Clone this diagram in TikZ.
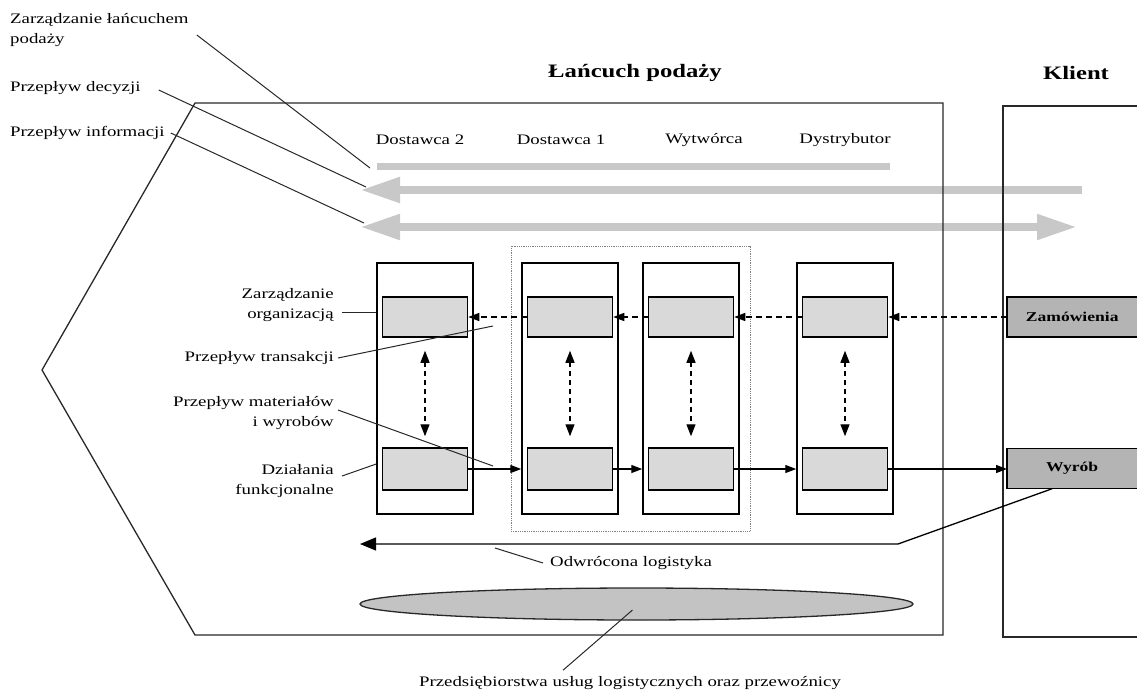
\documentclass[tikz,border=0pt]{standalone}
\usepackage{fontspec}
\setmainfont{Liberation Serif}[FakeStretch=1.3]
\usetikzlibrary{arrows.meta,shapes.geometric}
\definecolor{bargray}{RGB}{200,200,200}
\definecolor{innergray}{RGB}{217,217,217}
\definecolor{darkbox}{RGB}{180,180,180}
\definecolor{ellgray}{RGB}{195,195,195}
\definecolor{linegray}{RGB}{40,40,40}
\begin{document}
\begin{tikzpicture}[x=1pt,y=-1pt,
  every node/.style={font=\fontsize{14.5}{20}\selectfont, inner sep=0pt},
  titletext/.style={font=\fontsize{19}{22}\selectfont\bfseries},
  outerbox/.style={draw, line width=1.5pt, minimum width=96pt, minimum height=251pt},
  innerbox/.style={draw, line width=1.5pt, fill=innergray, minimum width=85pt},
  clientbox/.style={fill=darkbox, minimum width=130pt, minimum height=40pt, font=\fontsize{13.5}{16}\selectfont\bfseries},
  graybar/.style={line width=8pt, draw=bargray},
  bigtip/.tip={Triangle[length=40pt,width=24pt]},
  leader/.style={draw=linegray, line width=1pt},
  flowdash/.style={draw, line width=1.3pt, dash pattern=on 6pt off 4pt, -{Triangle[length=11pt,width=8pt]}},
  vdash/.style={draw, line width=1.3pt, dash pattern=on 5pt off 4pt, {Triangle[length=12pt,width=9pt]}-{Triangle[length=12pt,width=9pt]}},
  matflow/.style={draw, line width=1.3pt, -{Triangle[length=11pt,width=8pt]}}
]
\useasboundingbox (0,0) rectangle (1137,691);

% gray flow bars
\coordinate (b1s) at (377,166); \coordinate (b1e) at (890,166);
\coordinate (b2s) at (360,190); \coordinate (b2e) at (1082,190);
\coordinate (b3s) at (360,227); \coordinate (b3e) at (1077,227);
\draw[graybar, line width=7pt] (b1s) -- (b1e);
\draw[graybar, {bigtip}-] (b2s) -- (b2e);
\draw[graybar, {bigtip}-{bigtip}] (b3s) -- (b3e);

% supply chain outline
\draw[draw=linegray, line width=1.3pt] (195,103) -- (943,103) -- (943,635) -- (195,635) -- (42,370) -- cycle;
% client frame
\draw[draw=linegray, line width=1.3pt] (1137,106) -- (1003,106) -- (1003,637) -- (1137,637);

% titles
\node[titletext] (title) at (635,73) {Łańcuch podaży};
\node[titletext] (klient) at (1076,73) {Klient};

% column headers
\node (d2) at (420,140) {Dostawca 2};
\node (d1) at (561,140) {Dostawca 1};
\node (wy) at (704,140) {Wytwórca};
\node (dy) at (845,140) {Dystrybutor};

% dotted group
\node[draw=gray, densely dotted, line width=0.8pt, minimum width=239pt, minimum height=285pt] (grp) at (630.5,388.5) {};

% columns
\foreach \n/\x in {c1/425, c2/570, c3/691, c4/845}{
  \node[outerbox] (\n) at (\x,388.5) {};
  \node[innerbox, minimum height=40pt] (\n t) at (\x,317) {};
  \node[innerbox, minimum height=42pt] (\n b) at (\x,469) {};
  \draw[vdash] ([yshift=-13pt]\n t.south) -- ([yshift=11pt]\n b.north);
}

% client boxes
\node[clientbox, anchor=west] (zam) at (1007,317) {Zamówienia};
\node[clientbox, anchor=west] (wyr) at (1007,468.5) {Wyrób};
\draw[line width=1.5pt] (zam.north east) -| (zam.south west) -- (zam.south east);
\draw[line width=1.5pt] (wyr.north east) -| (wyr.south west) -- (wyr.south east);

% transaction flow (dashed, leftwards)
\draw[flowdash] (zam.west) -- (c4t.east);
\draw[flowdash] (c4t.west) -- (c3t.east);
\draw[flowdash] (c3t.west) -- (c2t.east);
\draw[flowdash] (c2t.west) -- (c1t.east);

% material flow
\draw[matflow] (c1b.east) -- (c2.west |- c1b.east);
\draw[matflow] (c2b.east) -- (c3.west |- c2b.east);
\draw[matflow] (c3b.east) -- (c4.west |- c3b.east);
\draw[matflow] (c4b.east) -- (wyr.west |- c4b.east);

% reverse logistics
\coordinate (rlc) at (898,544);
\coordinate (rle) at (360,544);
\draw[line width=1.3pt, -{Triangle[length=16pt,width=13pt]}] ([xshift=-20pt]wyr.south) -- (rlc) -- (rle);
\node[anchor=west] (ol) at (550,563) {Odwrócona logistyka};
\coordinate (olT) at (495,548);
\draw[leader] ([xshift=-7pt]ol.west) -- (olT);

% logistics providers
\node[ellipse, draw=linegray, line width=1.3pt, fill=ellgray, minimum width=553pt, minimum height=32pt] (ell) at (636.5,604) {};
\node (pul) at (630,683) {Przedsiębiorstwa usług logistycznych oraz przewoźnicy};
\draw[leader] ([xshift=-67pt,yshift=6pt]pul.north) -- ([xshift=-4pt,yshift=-6pt]ell.center);

% top-left labels
\node[anchor=north west, align=left] (zlp) at (10,13) {Zarządzanie łańcuchem\\podaży};
\node[anchor=west] (pd) at (10,88) {Przepływ decyzji};
\node[anchor=west] (pi) at (10,133) {Przepływ informacji};
\draw[leader] ([xshift=8pt,yshift=-22pt]zlp.north east) -- ([xshift=-7pt,yshift=-2pt]b1s);
\draw[leader] ([xshift=18pt,yshift=-2pt]pd.east) -- ([xshift=6pt,yshift=3pt]b2s);
\draw[leader] ([xshift=6pt]pi.east) -- ([xshift=4pt,yshift=4pt]b3s);

% left labels
\node[anchor=east, align=right] (zo) at (334,305) {Zarządzanie\\organizacją};
\node[anchor=east] (pt) at (334,358) {Przepływ transakcji};
\node[anchor=east, align=right] (pm) at (334,413) {Przepływ materiałów\\i wyrobów};
\node[anchor=east, align=right] (df) at (334,481) {Działania\\funkcjonalne};
\coordinate (ptT) at (493,326);
\coordinate (pmT) at (493,466);
\draw[leader] ([xshift=8pt,yshift=-7pt]zo.east) -- ([yshift=-7pt]c1.west |- zo.east);
\draw[leader] ([xshift=4pt]pt.east) -- (ptT);
\draw[leader] ([xshift=4pt,yshift=3pt]pm.east) -- (pmT);
\draw[leader] ([xshift=8pt,yshift=5pt]df.east) -- (c1.west |- 0,464);
\end{tikzpicture}
\end{document}
